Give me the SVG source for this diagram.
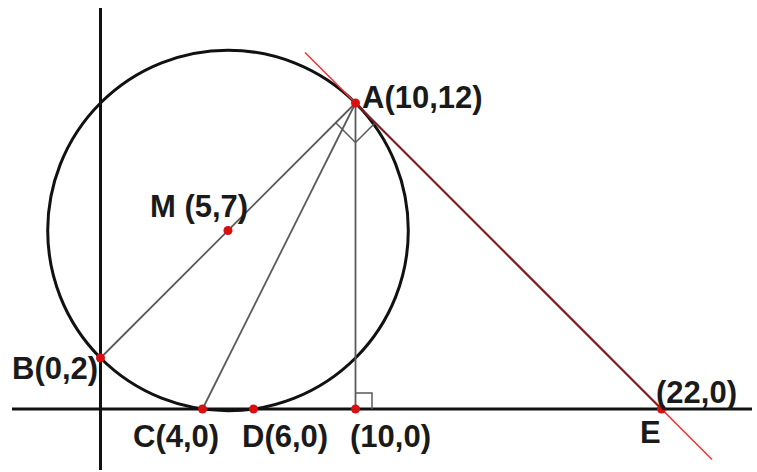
<svg xmlns="http://www.w3.org/2000/svg" width="757" height="472" viewBox="0 0 757 472">
<style>
.axis{stroke:#111;stroke-width:3;fill:none}
.circ{stroke:#111;stroke-width:3;fill:none}
.seg{stroke:#5a5a5a;stroke-width:1.8;fill:none}
.mark{stroke:#5a5a5a;stroke-width:1.5;fill:none}
.tan{stroke:#ee3a3a;stroke-width:1.6;fill:none}
.tanAE{stroke:#7a1f1f;stroke-width:2;fill:none}
.pt{fill:#d81010}
.lbl{font-family:"Liberation Sans",Arial,sans-serif;font-weight:bold;font-size:31px;fill:#1a1a1a}
</style>
<rect width="757" height="472" fill="#fff"/>
<g id="connectors">
<line class="axis" x1="100.5" y1="8" x2="100.5" y2="470"/>
<line class="axis" x1="12" y1="409" x2="752" y2="409"/>
<circle class="circ" cx="228" cy="230.5" r="180.3"/>
<line class="seg" x1="355.5" y1="103" x2="100.5" y2="358"/>
<line class="seg" x1="355.5" y1="103" x2="202.5" y2="409"/>
<line class="seg" x1="355.5" y1="103" x2="355.5" y2="409"/>
<polyline class="mark" points="336,123 355.5,142.5 375,123"/>
<polyline class="mark" points="355.5,393 372,393 372,409"/>
<line class="tan" x1="305" y1="52.5" x2="712" y2="459.5"/>
<line class="tanAE" x1="355.5" y1="103" x2="661.5" y2="409"/>
</g>
<g id="A"><circle class="pt" cx="355.5" cy="103" r="4.5"/><text class="lbl" x="362" y="108">A(10,12)</text></g>
<g id="M"><circle class="pt" cx="228" cy="230.5" r="4.5"/><text class="lbl" x="150" y="217">M (5,7)</text></g>
<g id="B"><circle class="pt" cx="100.5" cy="358" r="4.5"/><text class="lbl" x="12" y="379">B(0,2)</text></g>
<g id="C"><circle class="pt" cx="202.5" cy="409" r="4.5"/><text class="lbl" x="133" y="447">C(4,0)</text></g>
<g id="D"><circle class="pt" cx="253.5" cy="409" r="4.5"/><text class="lbl" x="242" y="447">D(6,0)</text></g>
<g id="F"><circle class="pt" cx="355.5" cy="409" r="4.5"/><text class="lbl" x="350" y="447">(10,0)</text></g>
<g id="E"><circle class="pt" cx="661.5" cy="409" r="4.5"/><text class="lbl" x="640" y="443">E</text><text class="lbl" x="656" y="403">(22,0)</text></g>
</svg>
